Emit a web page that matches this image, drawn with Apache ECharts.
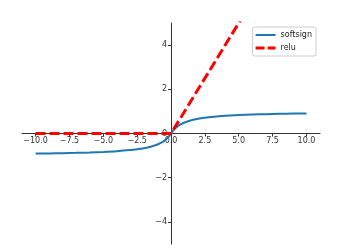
<!DOCTYPE html>
<html><head><meta charset="utf-8">
<script src="https://cdn.jsdelivr.net/npm/echarts@6/dist/echarts.min.js"></script>
<style>html,body{margin:0;padding:0;background:#fff}#c{width:342px;height:250px}</style>
</head><body><div id="c"></div>
<script>
const softsignX = [-10,-9,-8,-7,-6,-5,-4,-3,-2.5,-2,-1.5,-1,-0.75,-0.5,-0.25,0,0.25,0.5,0.75,1,1.5,2,2.5,3,4,5,6,7,8,9,10];
const softsignY = [-0.909,-0.900,-0.889,-0.875,-0.857,-0.833,-0.800,-0.750,-0.714,-0.667,-0.600,-0.500,-0.429,-0.333,-0.200,0,0.200,0.333,0.429,0.500,0.600,0.667,0.714,0.750,0.800,0.833,0.857,0.875,0.889,0.900,0.909];
const reluX = [-10,0,10];
const reluY = [0,0,10];
const xTicks = [-10,-7.5,-5,-2.5,0,2.5,5,7.5,10];
const yTicks = [-4,-2,0,2,4];
const xRange = [-11, 11];
const yRange = [-5, 5];
const fmt = s => s.replace('-', '\u2212');
const W = 342, H = 250, G = {left:22, right:22, top:23, bottom:6};
const chart = echarts.init(document.getElementById('c'), null, {renderer:'canvas', width:W, height:H});
const gridH = H - G.top - G.bottom;
const gridW = W - G.left - G.right;
const xOffset = -gridH * (0 - yRange[0]) / (yRange[1] - yRange[0]);
const yOffset = -gridW * (0 - xRange[0]) / (xRange[1] - xRange[0]);
const axisCommon = {
  type:'value', splitLine:{show:false},
  axisLine:{onZero:false, lineStyle:{color:'#333', width:1}},
  axisTick:{show:true, inside:false, length:3, lineStyle:{color:'#333'}},
  axisLabel:{color:'#333', fontSize:8, fontFamily:'DejaVu Sans', margin:4}
};
chart.setOption({
  animation:false,
  grid:Object.assign({containLabel:false}, G),
  legend:{
    orient:'vertical', right:26, top:27, bottom:'auto', left:'auto',
    itemWidth:20, itemHeight:8, itemGap:5, symbolKeepAspect:true,
    padding:[4,4,4,3], backgroundColor:'#fff', borderColor:'#ccc', borderWidth:1, borderRadius:2,
    textStyle:{fontSize:8, fontFamily:'DejaVu Sans', color:'#222'},
    data:[
      {name:'softsign', icon:'path://M0,0H20V2H0Z', itemStyle:{color:'#1f77b4'}},
      {name:'relu', icon:'path://M0,0H9V3H0Z M12,0H20V3H12Z', itemStyle:{color:'#ff0000'}}
    ]
  },
  xAxis:Object.assign({}, axisCommon, {
    min:xRange[0], max:xRange[1], position:'bottom', offset:xOffset,
    axisTick:Object.assign({}, axisCommon.axisTick, {customValues:xTicks}),
    axisLabel:Object.assign({}, axisCommon.axisLabel, {margin:3, customValues:xTicks, formatter:v=>fmt(v.toFixed(1))})
  }),
  yAxis:Object.assign({}, axisCommon, {
    min:yRange[0], max:yRange[1], position:'left', offset:yOffset,
    axisTick:Object.assign({}, axisCommon.axisTick, {customValues:yTicks}),
    axisLabel:Object.assign({}, axisCommon.axisLabel, {customValues:yTicks, formatter:v=>fmt(String(v))})
  }),
  series:[
    {name:'softsign', type:'line', smooth:0.3, symbol:'none', clip:true,
     data:softsignX.map((x,i)=>[x,softsignY[i]]),
     lineStyle:{color:'#1f77b4', width:2}, itemStyle:{color:'#1f77b4'}},
    {name:'relu', type:'line', symbol:'none', clip:true,
     data:reluX.map((x,i)=>[x,reluY[i]]),
     lineStyle:{color:'#ff0000', width:3, type:[10,4]}, itemStyle:{color:'#ff0000'}}
  ]
});
</script></body></html>
